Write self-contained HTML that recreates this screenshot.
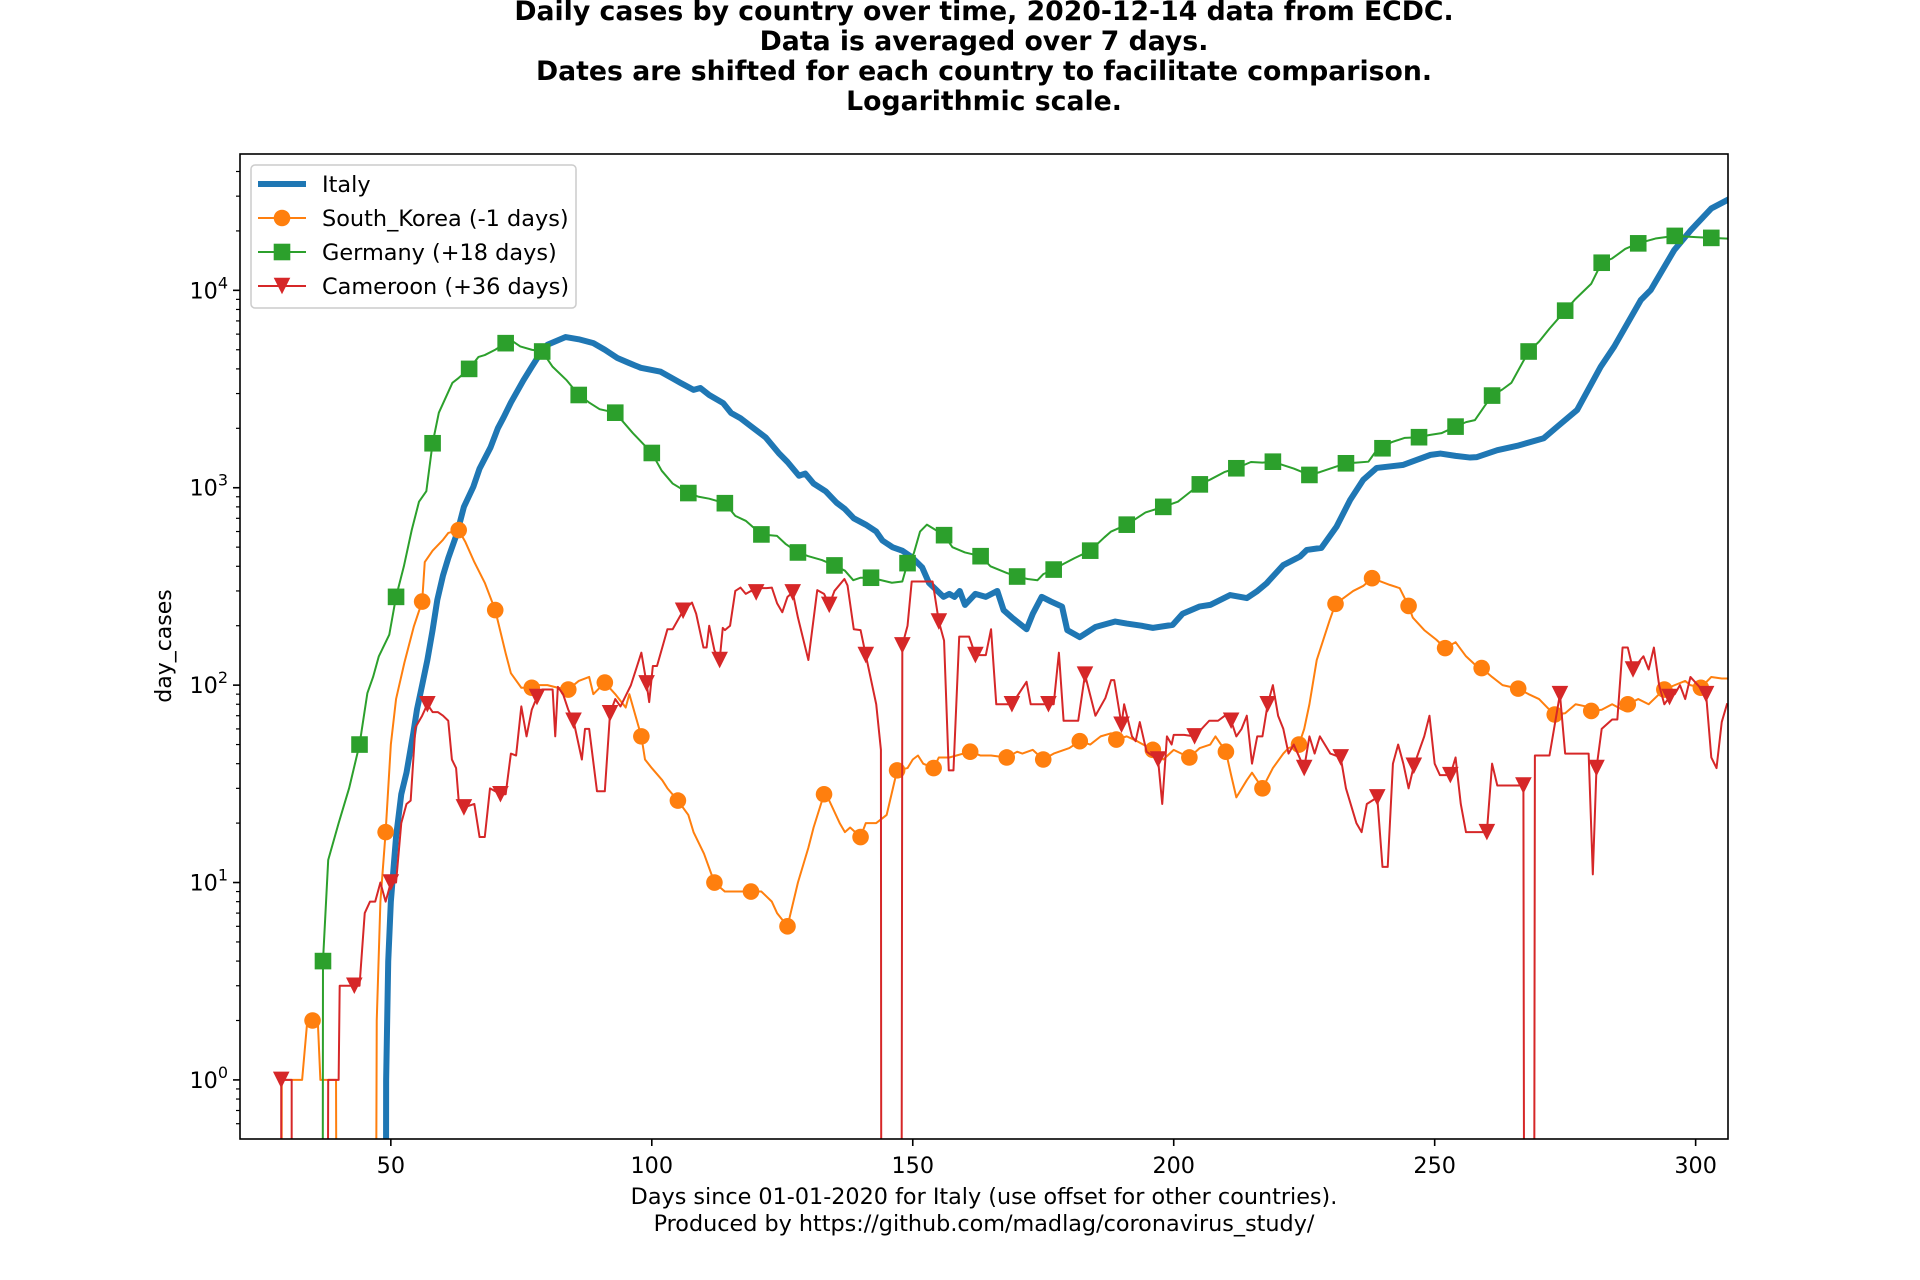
<!DOCTYPE html>
<html><head><meta charset="utf-8"><style>
html,body{margin:0;padding:0;background:#fff;width:1920px;height:1280px;overflow:hidden;}
svg{display:block;font-family:"DejaVu Sans","Liberation Sans",sans-serif;}
</style></head><body>
<svg id="chart" width="1920" height="1280" viewBox="0 0 1920 1280" xmlns="http://www.w3.org/2000/svg">
<rect x="0" y="0" width="1920" height="1280" fill="#fff"/>
<g font-weight="bold" font-size="26.7" text-anchor="middle" fill="#000">
<text x="984" y="20">Daily cases by country over time, 2020-12-14 data from ECDC.</text>
<text x="984" y="50">Data is averaged over 7 days.</text>
<text x="984" y="80">Dates are shifted for each country to facilitate comparison.</text>
<text x="984" y="110">Logarithmic scale.</text>
</g>
<defs><clipPath id="plotclip"><rect x="240" y="154" width="1488" height="985"/></clipPath></defs>
<g id="series" clip-path="url(#plotclip)"></g>
<g id="axes"></g>
<g font-size="22.3" text-anchor="middle" fill="#000">
<text x="984" y="1204">Days since 01-01-2020 for Italy (use offset for other countries).</text>
<text x="984" y="1231">Produced by https://github.com/madlag/coronavirus_study/</text>
</g>
<text font-size="22" text-anchor="middle" transform="translate(171,646) rotate(-90)">day_cases</text>
<g id="legend"></g>
</svg>
<script>
// ---- data ----
const italyDays=[49,49.1,49.5,50,51,52,53,54.3,55,56,57,58,58.9,60,61,62.7,64,65.8,67,69.1,70.5,71.6,73,75.4,77,78.7,80,83.5,86,88.8,91,93.4,95.5,97.9,101.7,105.5,108,109.3,111,113.7,115.2,117,119,121.8,124.3,126,128.2,129.4,131,133.3,135.4,137,138.7,141,143,144.2,146.1,148,149.8,151.8,153.1,155.9,157,158,159,160,162,164,166.2,167.4,169,171.8,173,174.7,176.5,178.6,179.6,182,185,188.8,191,193.8,196,199.8,201.7,204.9,207,210.8,214,215.9,217.8,221,224.2,225.5,228.3,231.2,233.8,236.3,238.9,244,246.6,249.2,251.1,254,256.8,258.1,262,265.8,270.9,273.5,277.3,281.8,284.4,289.5,291.4,295.9,299.1,303,306.1];
const italyVals=[0.01,1,4,8,17,28,36,57,75,100,134,190,270,360,440,590,800,1010,1250,1600,2000,2270,2700,3500,4100,4820,5300,5800,5650,5400,5000,4540,4300,4050,3870,3400,3130,3200,2950,2680,2390,2250,2050,1800,1500,1350,1150,1180,1050,960,840,780,700,650,600,540,500,480,445,395,330,280,290,280,300,255,290,280,300,240,220,192,230,280,265,250,190,175,197,210,205,200,195,202,230,250,255,286,276,298,328,406,448,484,496,635,867,1096,1260,1306,1385,1467,1490,1450,1422,1430,1550,1630,1782,2040,2477,4100,5190,8940,10040,16000,20200,26000,28700];

const koreaDays=[29,29.1,33,34,35,36,36.5,39.5,39.7,47,47.3,48,49,50,51,52.6,54.4,56,56.5,58,60,61,63,64.3,66,68,70,72,73,75,77,78,80,82,84,86,88,88.8,91,93,95,95.7,98,98.7,100,102,103,105,107,108,110,112,114,117,119,121,123,124,126,128,130,131,133,134,136,137,138,140,141,143,145,147,149,150,151,152,154,155,157,161,163,165,168,170,171,173,175,177,180,182,184,186,188,189,191,193,196,198,200,203,205,207,208,210,211,212,214,215,217,219,221,222,224,225,226,227.4,229.9,231,234.4,236.3,238,241.4,243.3,245,245.8,248,250.3,252,254,256,258,259,261,263,266,268,270,272,273,275,277,279,280,282,284,286,287,289,291,293,294,296,298,299,301,303,305,306];
const koreaVals=[0.01,1,1,2,2,2,1,1,0.01,0.01,2,8,18,50,85,130,198,265,420,480,545,590,610,530,420,330,240,145,115,97,97,100,100,97,95,105,110,90,103,90,77,90,55,42,38,33,30,26,22,18,14,10,9,9,9,9,8,7,6,10,15,19,28,26,20,18,19,17,20,20,22,37,38,42,44,40,38,43,43,46,44,44,43,46,45,47,42,45,48,52,50,55,57,53,55,52,47,42,47,43,48,50,55,46,35,27,33,36,30,38,45,48,50,60,80,134,214,258,300,318,348,322,310,252,220,190,170,154,165,140,125,122,110,100,96,90,85,75,71,72,80,78,74,75,80,75,80,85,80,90,95,100,105,100,97,110,108,108];

const germanyDays=[36.9,37,38,40,42,44,45.5,46.6,47.7,49.7,51,52.5,54,55.4,56.8,58,59.2,61.8,63,65,66.8,68,70,72,73,74.8,77,79,81,83.7,86,88,90,93,96.3,100,101.9,104,107,109,111,114,116,118,121,124,125.6,128,130,132.6,135,137,138.6,140,142,144,146,148,149,150.2,151.4,152.7,154,156,157.6,160,163,164.9,168,170,172,173.9,175,177,178.8,181,184,186.7,188,191,194.6,198,200.8,202,205,207,209.7,212,214.8,217,219,221,223,226,228,230,233,235,237.3,238.5,240,241.7,244.3,247,249,251.3,254,256,257.7,259.6,261,263,264.7,268,270,272,275,276.9,280,282,284,286.5,289,292.3,296,300,303,306];
const germanyVals=[0.01,4,13,20,30,50,91,110,140,180,280,400,610,850,960,1680,2400,3400,3600,4000,4600,4700,5000,5400,5600,5200,5000,4900,4100,3500,2950,2700,2500,2400,1900,1500,1220,1050,940,900,880,835,720,680,580,570,520,470,450,430,404,380,340,350,350,340,330,335,415,465,600,650,620,575,500,470,450,400,370,355,345,340,365,385,410,440,480,560,600,650,750,800,850,900,1040,1100,1200,1255,1350,1340,1355,1300,1250,1161,1200,1250,1330,1340,1355,1500,1585,1700,1790,1803,1850,1890,2040,2150,2200,2600,2930,3150,3400,4900,5500,6400,7890,9000,10800,13800,14500,16200,17300,18300,18870,18600,18440,18300];

const cameroonDays=[28.99,29,31,31.01,37.8,38,40,40.2,43,44,45,46,47,48,49,50,51,52,53,53.8,54.7,56,57,58,59,60,61,61.7,62.5,63,64,66,67,68,69,70,71,72,73,74,75,76,77,78,79,81,81.5,82,83,84,85,86.6,87.2,88,89.5,91,92,93,94,96,98,99,99.5,100.2,101,103,104,106,107.7,108.5,109.9,110.5,111,112,113,113.6,114,115,116,117,118,119,120,121,122,123,124,125,126,127,128,130,131.7,133,134,135,136.9,137.5,138.7,140,141,143,143.9,144,147.8,148,149,149.8,153.8,155,156,156.9,157.8,158.9,160.8,162,164,165,166,169,171.8,172.6,176,177,178,178.9,181.7,183,185,186.9,188,188.6,190,190.5,192,192.7,193.5,194.8,197,197.8,198.7,199.6,200,202,204,206.8,208.5,209.8,211,212,213,214,215,216,217,218,219,220,221,222,223,225,226,227,228,230,232,233,235,236,237,239,240,241,242,243,244,245,246,248,249,250,251,253,254,255,256,258,260,261,262,265,267,267.2,269,269.2,272,274,275,278,279.5,280.3,281,282,284,285,286,287,288,289,290,291,292,293,294,295,296,297,298,299,302,303,304,305,306];
const cameroonVals=[0.01,1,1,0.01,0.01,1,1,3,3,3,7,8,8,10,8,10,10,20,25,26,61,70,80,73,73,70,66,42,38,26,24,25,17,17,30,29,28,28,45,44,78,55,75,87,95,95,55,98,90,75,66,42,60,60,29,29,72,85,78,100,146,102,82,125,125,192,192,238,262,230,155,155,200,150,134,195,190,200,300,312,290,300,295,310,310,312,260,234,280,295,220,134,303,290,255,300,345,320,192,190,142,80,47,0.01,0.01,159,200,335,335,210,168,37,37,176,176,142,142,192,80,80,104,80,80,80,146,66,66,113,70,86,106,106,63,80,55,52,65,46,42,25,55,50,56,56,55,66,66,70,66,55,60,70,40,55,55,80,100,70,60,45,50,38,55,45,55,45,43,30,20,18,25,27,12,12,40,50,40,30,39,55,70,40,35,35,43,25,18,18,18,40,31,31,31,0.01,0.01,44,44,90,45,45,45,11,38,60,67,67,155,155,120,130,140,120,155,100,80,87,90,100,85,110,90,43,38,65,80];

const xTicks=[50,100,150,200,250,300];
const yTickExps=[0,1,2,3,4];

// ---- scales ----
const X0=240,X1=1728,Y0=154,Y1=1139;
const XMIN=21.1,XMAX=306.2;
const LOGMIN=-0.2993,LOGMAX=4.6907;
function xs(d){return X0+(d-XMIN)*(X1-X0)/(XMAX-XMIN);}
function ys(v){const l=Math.log10(Math.max(v,0.001));return Y1-(l-LOGMIN)*(Y1-Y0)/(LOGMAX-LOGMIN);}

const NS="http://www.w3.org/2000/svg";
function mk(tag,attrs,parent){const e=document.createElementNS(NS,tag);for(const k in attrs)e.setAttribute(k,attrs[k]);parent.appendChild(e);return e;}

const series=document.getElementById('series');
function drawMarker(type,x,y,color,parent){
  const r=8.3;let m;
  if(type==='o'){m=mk('circle',{cx:x,cy:y,r:r,fill:color},parent);}
  else if(type==='s'){m=mk('rect',{x:x-r,y:y-r,width:2*r,height:2*r,fill:color},parent);}
  else {m=mk('polygon',{points:`${x-r},${y-r} ${x+r},${y-r} ${x},${y+r}`,fill:color},parent);}
  return m;
}
function drawSeries(name,days,vals,color,width,marker,start){
  const g=mk('g',{},series);
  
  
  const pts=days.map((d,i)=>xs(d).toFixed(2)+','+ys(vals[i]).toFixed(2)).join(' ');
  const line=mk('polyline',{points:pts,fill:'none',stroke:color,'stroke-width':width,'stroke-linejoin':'round','stroke-linecap':'square'},g);
  
  
  if(marker){
    days.forEach((d,i)=>{
      if(Number.isInteger(d)&&(d-start)%7===0&&vals[i]>0.1){
        const m=drawMarker(marker,xs(d),ys(vals[i]),color,g);
        
        
      }
    });
  }
}
drawSeries('italy',italyDays,italyVals,'#1f77b4',6,null,0);
drawSeries('south-korea',koreaDays,koreaVals,'#ff7f0e',2,'o',35);
drawSeries('germany',germanyDays,germanyVals,'#2ca02c',2,'s',37);
drawSeries('cameroon',cameroonDays,cameroonVals,'#d62728',2,'v',29);

// ---- axes ----
const axes=document.getElementById('axes');
xTicks.forEach(t=>{
  const x=xs(t);
  const tk=mk('line',{x1:x,x2:x,y1:Y1,y2:Y1+7,stroke:'#000','stroke-width':1.6},axes);
  
  
  const lb=mk('text',{x:x,y:Y1+34,'font-size':22.3,'text-anchor':'middle',fill:'#000'},axes);
  lb.textContent=String(t);
  
  
});
for(let e=-1;e<=4;e++){
  for(let k=2;k<=9;k++){
    const v=k*Math.pow(10,e);const l=Math.log10(v);
    if(l<LOGMIN||l>LOGMAX)continue;
    const y=ys(v);
    const mt=mk('line',{x1:X0-4,x2:X0,y1:y,y2:y,stroke:'#000','stroke-width':1.2},axes);
    
    
  }
}
yTickExps.forEach(e=>{
  const y=ys(Math.pow(10,e));
  const tk=mk('line',{x1:X0-7,x2:X0,y1:y,y2:y,stroke:'#000','stroke-width':1.6},axes);
  
  
  const lb=mk('text',{x:X0-12,y:y+8,'font-size':22.3,'text-anchor':'end',fill:'#000'},axes);
  
  
  const t1=mk('tspan',{},lb);t1.textContent='10';
  const t2=mk('tspan',{dy:-10,'font-size':16},lb);t2.textContent=String(e);
});
const frame=mk('rect',{x:X0,y:Y0,width:X1-X0,height:Y1-Y0,fill:'none',stroke:'#000','stroke-width':1.6},axes);



// ---- legend ----
const lg=document.getElementById('legend');
mk('rect',{x:251,y:165,width:325,height:143,rx:4,fill:'#fff','fill-opacity':0.8,stroke:'#ccc','stroke-width':1.5},lg);
const legendNames=['Italy','South_Korea (-1 days)','Germany (+18 days)','Cameroon (+36 days)'];
const legendColors=['#1f77b4','#ff7f0e','#2ca02c','#d62728'];
const legendMarkers=[null,'o','s','v'];
legendNames.forEach((n,i)=>{
  const y=184+i*34;
  const g=mk('g',{},lg);
  
  
  mk('line',{x1:258,x2:306,y1:y,y2:y,stroke:legendColors[i],'stroke-width':i===0?6:2},g);
  if(legendMarkers[i])drawMarker(legendMarkers[i],282,y,legendColors[i],g);
  const t=mk('text',{x:322,y:y+8,'font-size':22.4,fill:'#000'},g);
  t.textContent=n;
});
</script>
</body></html>
